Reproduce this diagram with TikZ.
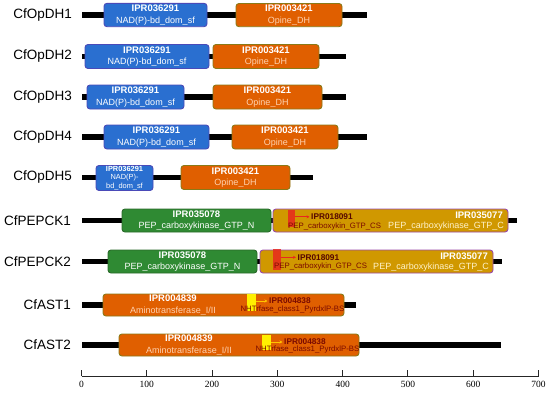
\documentclass[tikz,border=0pt]{standalone}
\usepackage{fontspec}
\setmainfont{Liberation Sans}
\newfontfamily\axisfont{Liberation Serif}
\usetikzlibrary{arrows.meta}
\definecolor{cblue}{HTML}{2A6FD0}
\definecolor{cbluebd}{HTML}{4A4AB8}
\definecolor{corange}{HTML}{E05F00}
\definecolor{corangebd}{HTML}{8A7A18}
\definecolor{cgreen}{HTML}{2F8A33}
\definecolor{cgreenbd}{HTML}{2A6A2A}
\definecolor{cgold}{HTML}{D09800}
\definecolor{cgoldbd}{HTML}{9A4AA8}
\definecolor{cpeach}{HTML}{FFD2B0}
\definecolor{cpale}{HTML}{FFF2C8}
\definecolor{cred}{HTML}{E8281E}
\definecolor{cdark}{HTML}{7A0A00}
\definecolor{cyel}{HTML}{FFF000}
\definecolor{carrowy}{HTML}{FFC400}
\newcommand\domnode[7]{%
  \pgfmathsetmacro\domW{#4-#3}\pgfmathsetmacro\domH{#6-#5}%
  \pgfmathsetmacro\domX{(#3+#4)/2}\pgfmathsetmacro\domY{(#5+#6)/2}%
  \node[#1, minimum width=\domW pt, minimum height=\domH pt] (#2) at (\domX,\domY) {#7};}
\newcommand\idl[1]{{\fontsize{9.5}{11.3}\selectfont\bfseries #1}}
\begin{document}
\begin{tikzpicture}[x=1pt,y=-1pt,
  bar/.style={line width=5.5pt, black},
  dombase/.style={rounded corners=3pt, draw, line width=0.9pt, inner sep=0pt, align=center, text=white,
     font=\fontsize{9}{11.3}\selectfont},
  bluedom/.style={dombase, fill=cblue, draw=cbluebd},
  orgdom/.style={dombase, fill=corange, draw=corangebd},
  grndom/.style={dombase, fill=cgreen, draw=cgreenbd},
  golddom/.style={dombase, fill=cgold, draw=cgoldbd},
  rowlab/.style={anchor=east, inner sep=0pt, font=\fontsize{13.5}{16}\selectfont},
  redmark/.style={fill=cred, fill opacity=0.85, inner sep=0pt, draw=none},
  yelmark/.style={fill=cyel, inner sep=0pt, draw=none},
  sitelab/.style={inner sep=0pt, font=\fontsize{8.3}{10}\selectfont\bfseries, text=cdark!70!black},
  sitename/.style={inner sep=0pt, font=\fontsize{7.8}{9}\selectfont, text=cdark},
  goldtxt/.style={inner sep=0pt, anchor=east, text=white, font=\fontsize{9}{11}\selectfont},
  redarr/.style={-{Stealth[length=3pt,width=3pt]}, cred, line width=1pt},
  yelarr/.style={-{Stealth[length=3pt,width=3pt]}, carrowy, line width=1pt},
  tickl/.style={font=\axisfont\fontsize{9.5}{11}\selectfont, inner sep=0pt}
]
\useasboundingbox (0,0) rectangle (550,394);

% ---- row labels
\node[rowlab] (l1) at (72,15) {CfOpDH1};
\node[rowlab] (l2) at (72,56.5) {CfOpDH2};
\node[rowlab] (l3) at (72,97) {CfOpDH3};
\node[rowlab] (l4) at (72,137) {CfOpDH4};
\node[rowlab] (l5) at (72,177.5) {CfOpDH5};
\node[rowlab] (l6) at (71,220.5) {CfPEPCK1};
\node[rowlab] (l7) at (71,261.5) {CfPEPCK2};
\node[rowlab] (l8) at (71,305) {CfAST1};
\node[rowlab] (l9) at (71,345) {CfAST2};

% ---- backbone bars
\coordinate (s1) at (82,15);    \coordinate (e1) at (367,15);
\coordinate (s2) at (82,56.5);  \coordinate (e2) at (346,56.5);
\coordinate (s3) at (82,97);    \coordinate (e3) at (346,97);
\coordinate (s4) at (82,137);   \coordinate (e4) at (367,137);
\coordinate (s5) at (82,177.5); \coordinate (e5) at (313,177.5);
\coordinate (s6) at (82,220.5); \coordinate (e6) at (517,220.5);
\coordinate (s7) at (82,261.5); \coordinate (e7) at (502,261.5);
\coordinate (s8) at (82,305);   \coordinate (e8) at (356,305);
\coordinate (s9) at (82,345);   \coordinate (e9) at (501,345);
\foreach \r in {1,...,9} { \draw[bar] (s\r) -- (e\r); }

% ---- CfOpDH rows
\domnode{bluedom}{b1}{104}{207}{3.3}{26.7}{\idl{IPR036291}\\NAD(P)-bd\_dom\_sf}
\domnode{orgdom}{o1}{236}{342}{3.5}{26.7}{\idl{IPR003421}\\\textcolor{cpeach}{Opine\_DH}}
\domnode{bluedom}{b2}{85}{209}{44.5}{68.5}{\idl{IPR036291}\\NAD(P)-bd\_dom\_sf}
\domnode{orgdom}{o2}{213}{319}{44.5}{68.5}{\idl{IPR003421}\\\textcolor{cpeach}{Opine\_DH}}
\domnode{bluedom}{b3}{87}{184}{85}{109}{\idl{IPR036291}\\NAD(P)-bd\_dom\_sf}
\domnode{orgdom}{o3}{213}{322}{85}{109}{\idl{IPR003421}\\\textcolor{cpeach}{Opine\_DH}}
\domnode{bluedom}{b4}{104}{209}{125}{149}{\idl{IPR036291}\\NAD(P)-bd\_dom\_sf}
\domnode{orgdom}{o4}{232}{338}{125}{149}{\idl{IPR003421}\\\textcolor{cpeach}{Opine\_DH}}
\domnode{bluedom,font=\fontsize{7.4}{8.5}\selectfont}{b5}{96}{153}{165.5}{190.5}{{\bfseries IPR036291}\\NAD(P)-\\bd\_dom\_sf}
\domnode{orgdom}{o5}{181}{290}{165.5}{189.5}{\idl{IPR003421}\\\textcolor{cpeach}{Opine\_DH}}

% ---- CfPEPCK rows
\domnode{grndom}{g6}{122}{271}{209}{232}{\idl{IPR035078}\\PEP\_carboxykinase\_GTP\_N}
\domnode{golddom}{d6}{273}{508}{209}{232}{}
\node[goldtxt] (c6a) at (503,215) {\idl{IPR035077}};
\node[goldtxt] (c6b) at (504,226.5) {\textcolor{cpale}{PEP\_carboxykinase\_GTP\_C}};
\domnode{redmark}{m6}{288}{295}{210}{227}{}
\node[sitelab, anchor=west] (i6) at (311,216.8) {IPR018091};
\node[sitename, anchor=west] (n6) at (288,226.3) {PEP\_carboxykin\_GTP\_CS};
\draw[redarr] (m6.east |- i6.west) -- ([xshift=-1.5pt]i6.west);

\domnode{grndom}{g7}{108}{257}{250}{273}{\idl{IPR035078}\\PEP\_carboxykinase\_GTP\_N}
\domnode{golddom}{d7}{260}{493}{250}{273}{}
\node[goldtxt] (c7a) at (488,256) {\idl{IPR035077}};
\node[goldtxt] (c7b) at (489,267.5) {\textcolor{cpale}{PEP\_carboxykinase\_GTP\_C}};
\domnode{redmark}{m7}{273}{281}{249}{270}{}
\node[sitelab, anchor=west] (i7) at (297.5,257.3) {IPR018091};
\node[sitename, anchor=west] (n7) at (274,266.8) {PEP\_carboxykin\_GTP\_CS};
\draw[redarr] (m7.east |- i7.west) -- ([xshift=-1.5pt]i7.west);

% ---- CfAST rows
\domnode{orgdom}{o8}{103}{344}{294}{316}{}
\node[inner sep=0pt, align=center, text=white, font=\fontsize{9}{11.4}\selectfont] (t8) at (173,305) {\idl{IPR004839}\\\textcolor{cpeach}{Aminotransferase\_I/II}};
\domnode{yelmark}{m8}{247}{256}{294}{311}{}
\node[sitelab, anchor=west, text=cdark] (i8) at (269,301) {IPR004838};
\node[sitename, anchor=east] (n8) at (344.5,309.3) {NHTrfase\_class1\_PyrdxlP-BS};
\draw[yelarr] (m8.east |- i8.west) -- ([xshift=-1.5pt]i8.west);

\domnode{orgdom}{o9}{119}{359}{334}{356}{}
\node[inner sep=0pt, align=center, text=white, font=\fontsize{9}{11.4}\selectfont] (t9) at (189,345) {\idl{IPR004839}\\\textcolor{cpeach}{Aminotransferase\_I/II}};
\domnode{yelmark}{m9}{262}{271}{335}{350}{}
\node[sitelab, anchor=west, text=cdark] (i9) at (284,342) {IPR004838};
\node[sitename, anchor=east] (n9) at (359.5,349.3) {NHTrfase\_class1\_PyrdxlP-BS};
\draw[yelarr] (m9.east |- i9.west) -- ([xshift=-1.5pt]i9.west);

% ---- axis
\coordinate (ax0) at (81.5,376);
\coordinate (ax7) at (538.5,376);
\draw[line width=0.9pt, black!85] (ax0) -- (ax7);
\foreach \i in {0,...,7} {
  \pgfmathsetmacro\tkx{81.5+65.286*\i}
  \pgfmathtruncatemacro\tkl{\i*100}
  \coordinate (tk\i) at (\tkx,376);
  \draw[line width=0.9pt, black!85] (tk\i) -- ++(0,-6);
  \node[tickl] (tl\i) at (\tkx,384.5) {\tkl};
}
\end{tikzpicture}
\end{document}
